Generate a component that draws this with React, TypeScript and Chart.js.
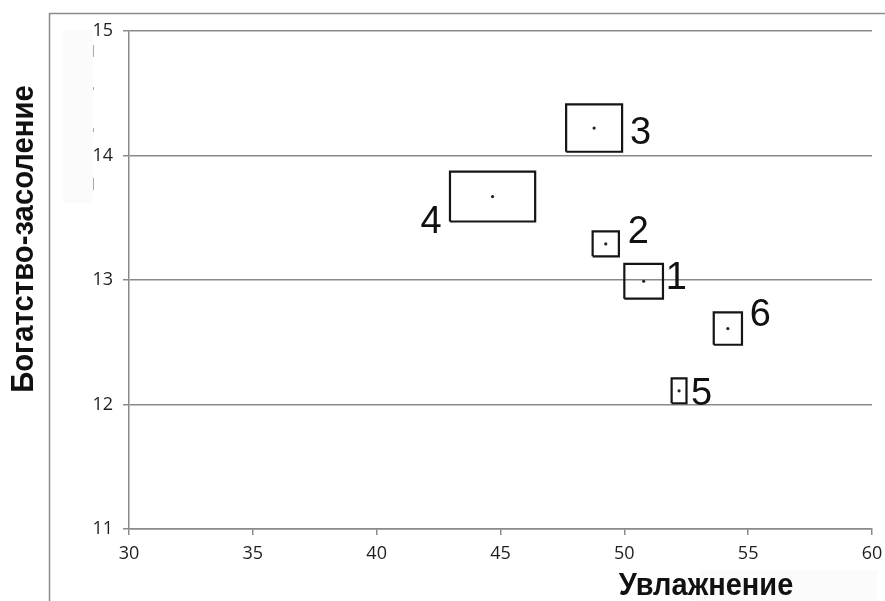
import React, { useEffect, useRef } from "react";
import { Chart, registerables } from "chart.js";

Chart.register(...registerables);

// ---- data ----
const siteLabels = ["1", "2", "3", "4", "5", "6"];
const moisture = [50.78, 49.25, 48.78, 44.68, 52.21, 54.18];
const richness = [12.99, 13.29, 14.22, 13.67, 12.11, 12.61];
const moistureErr = [0.78, 0.53, 1.13, 1.72, 0.3, 0.57];
const richnessErr = [0.14, 0.1, 0.19, 0.2, 0.1, 0.13];
const xTickValues = [30, 35, 40, 45, 50, 55, 60];
const yTickValues = [11, 12, 13, 14, 15];
const xTitle = "Увлажнение";
const yTitle = "Богатство-засоление";

// ---- label placement (pixel offsets from each point) ----
const labelDx = [22, 22, 36, -72, 12, 22];
const labelDy = [8, -1, 16, 36, 14, -3];

const AXIS_GRAY = "#8a8a8a";
const TICK_FONT = { family: "Open Sans", size: 18 };

function boxDataset(i: number) {
  const x = moisture[i];
  const y = richness[i];
  const ex = moistureErr[i];
  const ey = richnessErr[i];
  return {
    type: "scatter" as const,
    label: "box " + siteLabels[i],
    data: [
      { x: x - ex, y: y - ey },
      { x: x + ex, y: y - ey },
      { x: x + ex, y: y + ey },
      { x: x - ex, y: y + ey },
      { x: x - ex, y: y - ey },
    ],
    showLine: true,
    borderColor: "#151515",
    borderWidth: 2.2,
    borderJoinStyle: "miter" as const,
    pointRadius: 0,
    pointHoverRadius: 0,
    fill: false,
  };
}

const decorPlugin = {
  id: "decor",
  beforeDraw(chart: any) {
    const ctx = chart.ctx;
    ctx.save();
    // faint background patches
    ctx.fillStyle = "#fbfbfb";
    ctx.fillRect(63, 30, 30, 173);
    ctx.fillRect(700, 570, 177, 31);
    // outer frame (top and left)
    ctx.strokeStyle = "#8c8c8c";
    ctx.lineWidth = 1.5;
    ctx.beginPath();
    ctx.moveTo(49, 13.5);
    ctx.lineTo(885, 13.5);
    ctx.moveTo(49.5, 13);
    ctx.lineTo(49.5, 601);
    ctx.stroke();
    // small dashes
    ctx.strokeStyle = "#aaaaaa";
    ctx.lineWidth = 1;
    ctx.beginPath();
    [[45, 57], [87, 90], [128, 132], [178, 190]].forEach(([a, b]) => {
      ctx.moveTo(93.5, a);
      ctx.lineTo(93.5, b);
    });
    ctx.stroke();
    ctx.restore();
  },
  afterDraw(chart: any) {
    const ctx = chart.ctx;
    const xs = chart.scales.x;
    const ys = chart.scales.y;
    ctx.save();
    // point labels
    ctx.fillStyle = "#111";
    ctx.font = "38px 'Liberation Sans', Arial, sans-serif";
    ctx.textAlign = "left";
    ctx.textBaseline = "alphabetic";
    siteLabels.forEach((lab, i) => {
      const px = xs.getPixelForValue(moisture[i]);
      const py = ys.getPixelForValue(richness[i]);
      ctx.fillText(lab, px + labelDx[i], py + labelDy[i]);
    });
    // axis titles
    ctx.font = "bold 29px 'Liberation Sans', Arial, sans-serif";
    ctx.textAlign = "center";
    ctx.textBaseline = "alphabetic";
    ctx.save();
    ctx.translate(706, 595);
    ctx.scale(1, 1.1);
    ctx.fillText(xTitle, 0, 0);
    ctx.restore();
    ctx.save();
    ctx.translate(33, 239);
    ctx.rotate(-Math.PI / 2);
    ctx.scale(1.01, 1.1);
    ctx.fillText(yTitle, 0, 0);
    ctx.restore();
    ctx.restore();
  },
};

export default function App() {
  const ref = useRef<HTMLCanvasElement | null>(null);
  useEffect(() => {
    if (!ref.current) return;
    const datasets: any[] = siteLabels.map((_, i) => boxDataset(i));
    datasets.push({
      type: "scatter",
      label: "centers",
      data: moisture.map((m, i) => ({ x: m, y: richness[i] })),
      pointRadius: 1.6,
      pointBackgroundColor: "#222",
      pointBorderWidth: 0,
      showLine: false,
    });
    const chart = new Chart(ref.current, {
      type: "scatter",
      data: { datasets },
      plugins: [decorPlugin],
      options: {
        responsive: false,
        animation: false,
        events: [],
        layout: { padding: { top: 31, right: 13, left: 0, bottom: 0 } },
        plugins: { legend: { display: false }, tooltip: { enabled: false }, title: { display: false } },
        scales: {
          x: {
            type: "linear",
            min: 30,
            max: 60,
            afterFit: (s: any) => {
              s.height = 72;
              s.paddingLeft = 0;
              s.paddingRight = 0;
            },
            afterBuildTicks: (s: any) => {
              s.ticks = xTickValues.map((v) => ({ value: v }));
            },
            ticks: {
              color: "#1e1e1e",
              font: TICK_FONT,
              padding: 8,
              maxRotation: 0,
            },
            grid: {
              drawOnChartArea: false,
              drawTicks: true,
              tickLength: 6,
              color: AXIS_GRAY,
              lineWidth: 1.5,
            },
            border: { display: true, color: AXIS_GRAY, width: 1.5 },
          },
          y: {
            type: "linear",
            min: 11,
            max: 15,
            afterFit: (s: any) => {
              s.width = 129;
              s.paddingTop = 0;
              s.paddingBottom = 0;
            },
            afterBuildTicks: (s: any) => {
              s.ticks = yTickValues.map((v) => ({ value: v }));
            },
            ticks: {
              color: "#1e1e1e",
              font: TICK_FONT,
              padding: 10,
            },
            grid: {
              drawOnChartArea: true,
              drawTicks: true,
              tickLength: 6,
              color: AXIS_GRAY,
              lineWidth: 1.5,
            },
            border: { display: true, color: AXIS_GRAY, width: 1.5 },
          },
        },
      },
    });
    return () => chart.destroy();
  }, []);
  return (
    <div style={{ position: "fixed", left: 0, top: 0, width: 885, height: 601, background: "#fff" }}>
      <canvas ref={ref} width={885} height={601} style={{ display: "block" }} />
    </div>
  );
}
